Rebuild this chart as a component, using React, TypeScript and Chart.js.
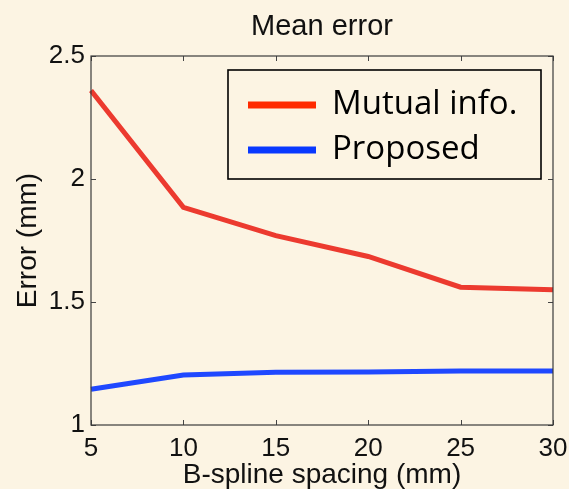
import React, { useEffect, useRef } from "react";
import { Chart, registerables } from "chart.js";

Chart.register(...registerables);

const categories = ["5", "10", "15", "20", "25", "30"];
const mutualInfo = [2.36, 1.885, 1.77, 1.685, 1.56, 1.55];
const proposed = [1.145, 1.203, 1.214, 1.215, 1.22, 1.22];
const seriesLabels = ["Mutual info.", "Proposed"];
const lineColors = ["#ec3a2f", "#1f48ff"];
const legendColors = ["#ff2a00", "#0838ff"];
const yTickValues = [1, 1.5, 2, 2.5];
const yTickLabels = ["1", "1.5", "2", "2.5"];
const chartTitle = "Mean error";

const BG = "#fcf4e3";
const FONT = '"Liberation Sans", Arial, sans-serif';

const frameAndLegend = {
  id: "frameAndLegend",
  afterDraw(chart: any) {
    const ctx = chart.ctx;
    const { left, right, top, bottom } = chart.chartArea;
    const xs = chart.scales.x;
    const ys = chart.scales.y;
    ctx.save();
    // title centred over plot area
    ctx.fillStyle = "#111";
    ctx.font = "29px " + FONT;
    ctx.textAlign = "center";
    ctx.textBaseline = "middle";
    ctx.fillText(chartTitle, (left + right) / 2, 27);
    // inward ticks
    ctx.strokeStyle = "#444";
    ctx.lineWidth = 1;
    const tl = 5;
    ctx.beginPath();
    for (let i = 0; i < categories.length; i++) {
      const px = Math.round(xs.getPixelForValue(i)) + 0.5;
      ctx.moveTo(px, bottom);
      ctx.lineTo(px, bottom - tl);
      ctx.moveTo(px, top);
      ctx.lineTo(px, top + tl);
    }
    for (const v of yTickValues) {
      const py = Math.round(ys.getPixelForValue(v)) + 0.5;
      ctx.moveTo(left, py);
      ctx.lineTo(left + tl, py);
      ctx.moveTo(right, py);
      ctx.lineTo(right - tl, py);
    }
    ctx.stroke();
    // frame
    ctx.strokeStyle = "#3a3a3a";
    ctx.lineWidth = 1.2;
    ctx.strokeRect(left, top, right - left, bottom - top);

    // legend
    const bx = right - 325;
    const by = top + 14;
    const bw = 313;
    const bh = 109;
    ctx.fillStyle = BG;
    ctx.fillRect(bx, by, bw, bh);
    ctx.strokeStyle = "#000";
    ctx.lineWidth = 1.6;
    ctx.strokeRect(bx, by, bw, bh);
    const rows = [35, 80];
    chart.data.datasets.forEach((ds: any, i: number) => {
      const y = by + rows[i];
      ctx.strokeStyle = legendColors[i];
      ctx.lineWidth = 7;
      ctx.beginPath();
      ctx.moveTo(bx + 20, y);
      ctx.lineTo(bx + 88, y);
      ctx.stroke();
      ctx.fillStyle = "#000";
      ctx.font = '33px "Open Sans"';
      ctx.textBaseline = "middle";
      ctx.textAlign = "left";
      ctx.fillText(ds.label, bx + 104, y);
    });
    ctx.restore();
  },
};

export default function App() {
  const ref = useRef<HTMLCanvasElement | null>(null);
  useEffect(() => {
    document.body.style.margin = "0";
    document.body.style.background = BG;
    const canvas = ref.current!;
    const chart = new Chart(canvas, {
      type: "line",
      data: {
        labels: categories,
        datasets: [
          {
            label: seriesLabels[0],
            data: mutualInfo,
            borderColor: lineColors[0],
            borderWidth: 5,
            pointRadius: 0,
            tension: 0,
            fill: false,
          },
          {
            label: seriesLabels[1],
            data: proposed,
            borderColor: lineColors[1],
            borderWidth: 5,
            pointRadius: 0,
            tension: 0,
            fill: false,
          },
        ],
      },
      options: {
        animation: false,
        responsive: false,
        layout: { padding: { left: 0, right: 16, top: 56, bottom: 0 } },
        plugins: {
          legend: { display: false },
          tooltip: { enabled: false },
          title: { display: false },
        },
        scales: {
          x: {
            type: "category",
            offset: false,
            grid: { display: false, drawTicks: false },
            border: { display: false },
            ticks: {
              color: "#111",
              padding: 8,
              maxRotation: 0,
              font: { family: FONT, size: 26 },
            },
            title: {
              display: true,
              text: "B-spline spacing (mm)",
              color: "#111",
              padding: { top: 0, bottom: 0 },
              font: { family: FONT, size: 28, lineHeight: 1.0 },
            },
            afterFit(scale: any) {
              scale.height = 64;
              scale.paddingLeft = 0;
              scale.paddingRight = 0;
            },
          },
          y: {
            min: 1,
            max: 2.5,
            grid: { display: false, drawTicks: false },
            border: { display: false },
            ticks: {
              stepSize: 0.5,
              color: "#111",
              padding: 6,
              font: { family: FONT, size: 26 },
              callback: (value: any) => {
                const idx = yTickValues.indexOf(Number(value));
                return idx >= 0 ? yTickLabels[idx] : "";
              },
            },
            title: {
              display: true,
              text: "Error (mm)",
              color: "#111",
              padding: { top: 11, bottom: 0 },
              font: { family: FONT, size: 28, lineHeight: 1.2 },
            },
            afterFit(scale: any) {
              scale.width = 91;
              scale.paddingTop = 0;
              scale.paddingBottom = 0;
            },
          },
        },
      },
      plugins: [frameAndLegend],
    });
    return () => chart.destroy();
  }, []);
  return (
    <div style={{ width: 569, height: 489, background: BG }}>
      <canvas ref={ref} width={569} height={489} />
    </div>
  );
}
